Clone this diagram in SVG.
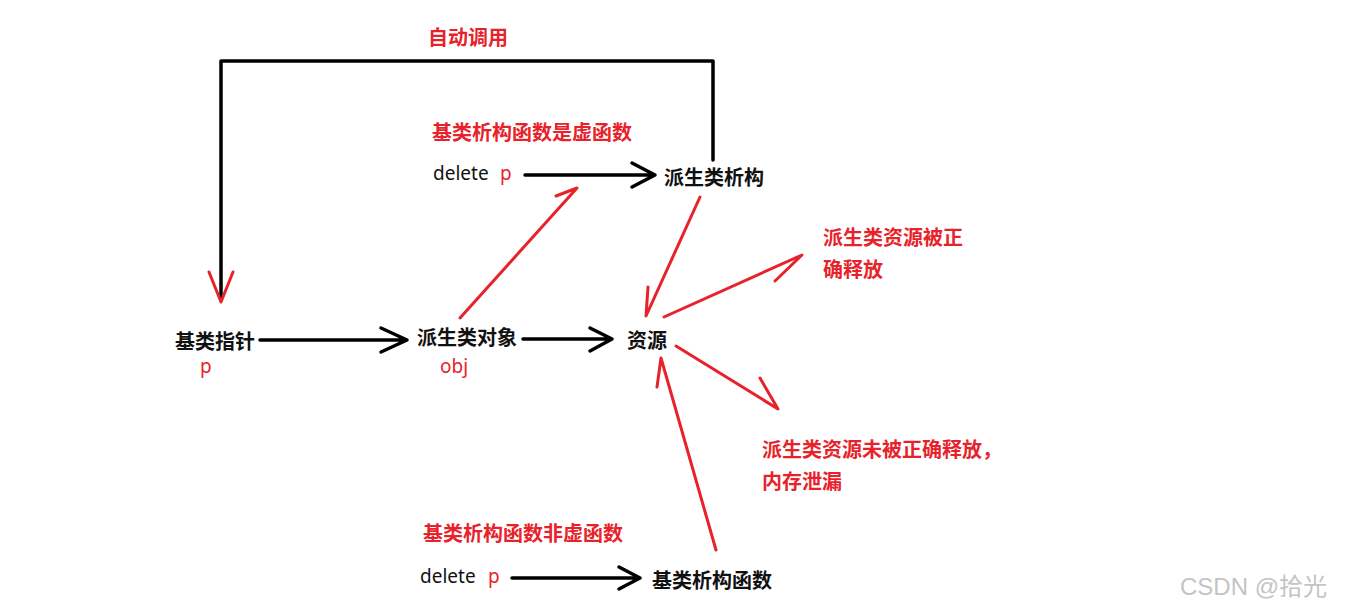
<svg xmlns="http://www.w3.org/2000/svg" width="1350" height="610" viewBox="0 0 1350 610">
<style>
text{font-family:"Noto Sans CJK SC","Noto Sans",sans-serif;}
.b{font-size:20px;font-weight:bold;fill:#111;}
.r{font-size:20px;font-weight:bold;fill:#e8222b;}
.l{font-family:"Noto Sans","Noto Sans CJK SC",sans-serif;font-size:19px;fill:#111;}
.lr{font-family:"Noto Sans","Noto Sans CJK SC",sans-serif;font-size:19px;fill:#e8222b;}
.k{fill:none;stroke:#000;stroke-width:3.5;stroke-linecap:round;stroke-linejoin:round;}
.rd{fill:none;stroke:#e8222b;stroke-width:3;stroke-linecap:round;stroke-linejoin:round;}
.wm{font-family:"Liberation Sans","Noto Sans CJK SC",sans-serif;font-size:24px;fill:#c4c4c4;}
</style>
<rect width="1350" height="610" fill="#fff"/>
<g id="connectors">
<path class="k" d="M221,297 V61 H713 V160"/>
<path class="rd" d="M209,272 L221,302 L233,272"/>
<path class="k" d="M525,175 H655 M632,163 L655,175 L632,187"/>
<path class="k" d="M260,340 H407 M381,328 L407,340 L381,352"/>
<path class="k" d="M523,339 H612 M590,328 L612,339 L590,351"/>
<path class="k" d="M512,578 H640 M619,567 L640,578 L619,589"/>
<path class="rd" d="M460,318 L577,188 L556,196"/>
<path class="rd" d="M700,197 L646,316 L648,287"/>
<path class="rd" d="M664,317 L802,255 L775,281"/>
<path class="rd" d="M676,346 L778,409 L760,378"/>
<path class="rd" d="M716,550 L661,358 L657,387"/>
</g>
<g id="label-auto"><text class="r" x="428" y="45">自动调用</text></g>
<g id="label-virtual"><text class="r" x="432" y="140">基类析构函数是虚函数</text></g>
<g id="delete-top"><text class="l" x="433" y="180">delete</text><text class="lr" x="500" y="180">p</text></g>
<g id="derived-dtor"><text class="b" x="664" y="185">派生类析构</text></g>
<g id="released"><text class="r" x="823" y="245">派生类资源被正</text><text class="r" x="823" y="277">确释放</text></g>
<g id="base-ptr"><text class="b" x="175" y="349">基类指针</text><text class="lr" x="200" y="373">p</text></g>
<g id="derived-obj"><text class="b" x="417" y="345">派生类对象</text><text class="lr" x="440" y="373">obj</text></g>
<g id="resource"><text class="b" x="627" y="348">资源</text></g>
<g id="leak"><text class="r" x="762" y="457">派生类资源未被正确释放，</text><text class="r" x="762" y="489">内存泄漏</text></g>
<g id="label-nonvirtual"><text class="r" x="423" y="541">基类析构函数非虚函数</text></g>
<g id="delete-bottom"><text class="l" x="420" y="583">delete</text><text class="lr" x="488" y="583">p</text></g>
<g id="base-dtor"><text class="b" x="652" y="588">基类析构函数</text></g>
<text class="wm" x="1180" y="595">CSDN @拾光</text>
</svg>
